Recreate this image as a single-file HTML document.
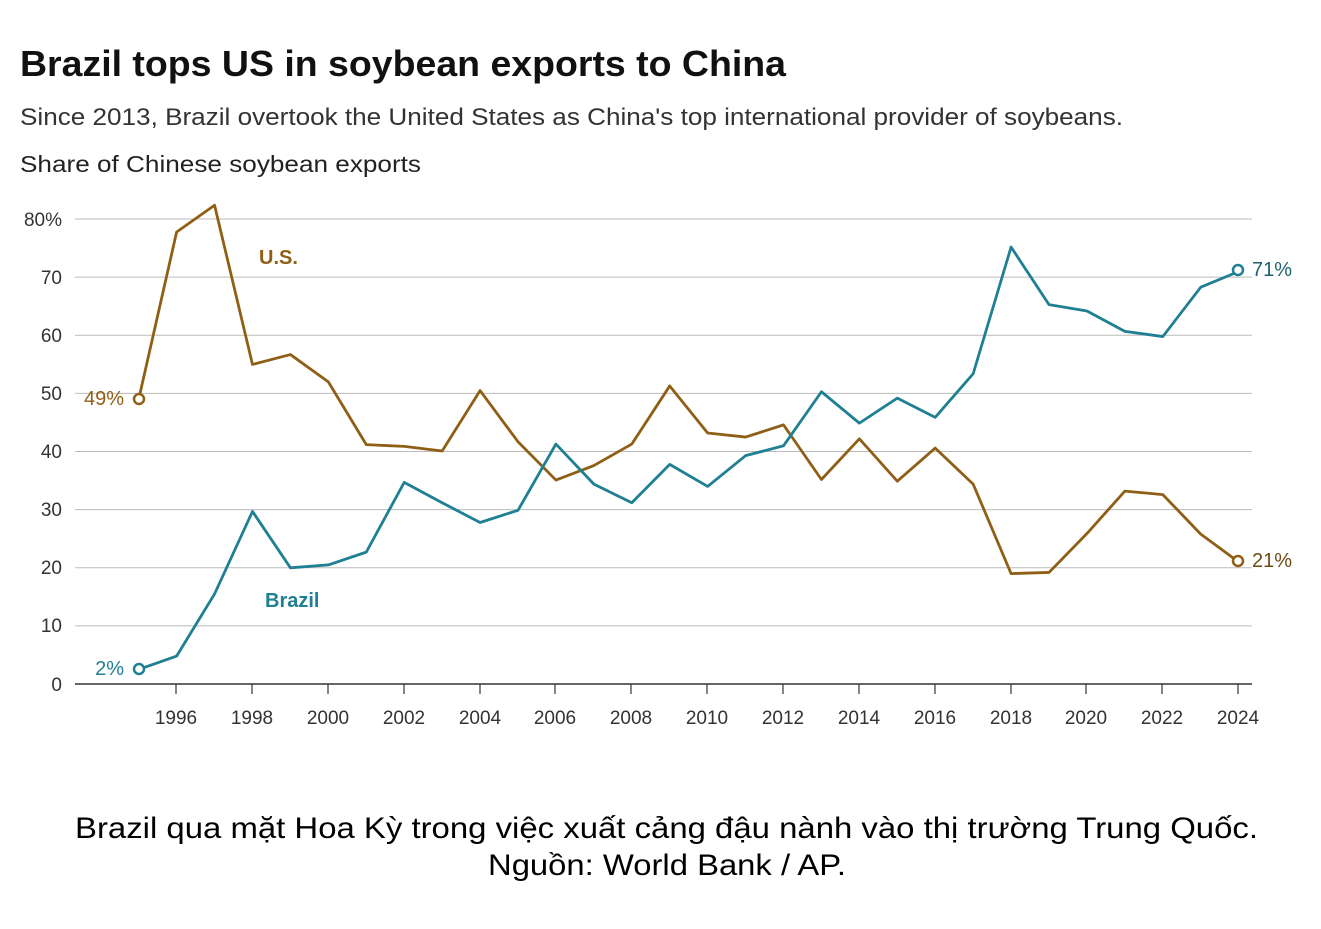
<!DOCTYPE html>
<html><head><meta charset="utf-8"><style>
body{margin:0;background:#fff;width:1321px;height:924px;overflow:hidden;font-family:"Liberation Sans",sans-serif}
</style></head><body>
<svg width="1321" height="924" xmlns="http://www.w3.org/2000/svg" font-family="Liberation Sans, DejaVu Sans, sans-serif">
<text x="20" y="76" font-size="36" font-weight="bold" fill="#111" textLength="766" lengthAdjust="spacingAndGlyphs">Brazil tops US in soybean exports to China</text>
<text x="20" y="125" font-size="24" fill="#333" textLength="1103" lengthAdjust="spacingAndGlyphs">Since 2013, Brazil overtook the United States as China's top international provider of soybeans.</text>
<text x="20" y="172" font-size="23" fill="#222" textLength="401" lengthAdjust="spacingAndGlyphs">Share of Chinese soybean exports</text>
<g stroke="#bbb" stroke-width="1">
<line x1="75" x2="1252" y1="219" y2="219"/><line x1="75" x2="1252" y1="277.1" y2="277.1"/>
<line x1="75" x2="1252" y1="335.3" y2="335.3"/><line x1="75" x2="1252" y1="393.4" y2="393.4"/>
<line x1="75" x2="1252" y1="451.5" y2="451.5"/><line x1="75" x2="1252" y1="509.6" y2="509.6"/>
<line x1="75" x2="1252" y1="567.8" y2="567.8"/><line x1="75" x2="1252" y1="625.9" y2="625.9"/>
</g>
<line x1="75" x2="1252" y1="684" y2="684" stroke="#333" stroke-width="1.5"/>
<g font-size="19" fill="#333" text-anchor="end">
<text x="62" y="226">80%</text><text x="62" y="284">70</text><text x="62" y="342">60</text><text x="62" y="400">50</text>
<text x="62" y="458">40</text><text x="62" y="516">30</text><text x="62" y="574">20</text><text x="62" y="632">10</text><text x="62" y="691">0</text>
</g>
<g stroke="#333" stroke-width="1.2">
<line x1="176" x2="176" y1="684" y2="694"/><line x1="252" x2="252" y1="684" y2="694"/><line x1="328" x2="328" y1="684" y2="694"/>
<line x1="404" x2="404" y1="684" y2="694"/><line x1="480" x2="480" y1="684" y2="694"/><line x1="555" x2="555" y1="684" y2="694"/>
<line x1="631" x2="631" y1="684" y2="694"/><line x1="707" x2="707" y1="684" y2="694"/><line x1="783" x2="783" y1="684" y2="694"/>
<line x1="859" x2="859" y1="684" y2="694"/><line x1="935" x2="935" y1="684" y2="694"/><line x1="1011" x2="1011" y1="684" y2="694"/>
<line x1="1086" x2="1086" y1="684" y2="694"/><line x1="1162" x2="1162" y1="684" y2="694"/><line x1="1238" x2="1238" y1="684" y2="694"/>
</g>
<g font-size="19" fill="#333" text-anchor="middle">
<text x="176" y="724">1996</text><text x="252" y="724">1998</text><text x="328" y="724">2000</text><text x="404" y="724">2002</text>
<text x="480" y="724">2004</text><text x="555" y="724">2006</text><text x="631" y="724">2008</text><text x="707" y="724">2010</text>
<text x="783" y="724">2012</text><text x="859" y="724">2014</text><text x="935" y="724">2016</text><text x="1011" y="724">2018</text>
<text x="1086" y="724">2020</text><text x="1162" y="724">2022</text><text x="1238" y="724">2024</text>
</g>
<g transform="translate(138.7,684) scale(37.93,-5.81)" fill="none" stroke-width="2.8" stroke-linejoin="round">
<polyline vector-effect="non-scaling-stroke" stroke="#8f5f16" points="0,49 1,77.8 2,82.4 3,55 4,56.7 5,52 6,41.2 7,40.9 8,40.1 9,50.5 10,41.7 11,35.1 12,37.6 13,41.3 14,51.3 15,43.2 16,42.5 17,44.6 18,35.2 19,42.2 20,34.9 21,40.6 22,34.4 23,19 24,19.2 25,25.9 26,33.2 27,32.6 28,25.8 29,21"/>
<polyline vector-effect="non-scaling-stroke" stroke="#1f7f93" points="0,2.5 1,4.8 2,15.5 3,29.7 4,20 5,20.5 6,22.7 7,34.7 8,31.2 9,27.8 10,29.9 11,41.3 12,34.4 13,31.2 14,37.8 15,34 16,39.3 17,41 18,50.3 19,44.9 20,49.2 21,45.9 22,53.4 23,75.2 24,65.3 25,64.2 26,60.7 27,59.8 28,68.3 29,71"/>
</g>
<circle cx="139" cy="399" r="5" fill="#fff" stroke="#8f5f16" stroke-width="2.5"/>
<circle cx="139" cy="669" r="5" fill="#fff" stroke="#1f7f93" stroke-width="2.5"/>
<circle cx="1238" cy="270" r="5" fill="#fff" stroke="#1f7f93" stroke-width="2.5"/>
<circle cx="1238" cy="561" r="5" fill="#fff" stroke="#8f5f16" stroke-width="2.5"/>
<text x="124" y="405" font-size="20" fill="#8f5f16" text-anchor="end">49%</text>
<text x="124" y="675" font-size="20" fill="#1f7f93" text-anchor="end">2%</text>
<text x="1252" y="276" font-size="20" fill="#1f5f6f">71%</text>
<text x="1252" y="567" font-size="20" fill="#6f4a12">21%</text>
<text x="259" y="264" font-size="20" font-weight="bold" fill="#8f5f16">U.S.</text>
<text x="265" y="607" font-size="20" font-weight="bold" fill="#1f7f93">Brazil</text>
<text x="75" y="838" font-size="30" fill="#000" textLength="1183" lengthAdjust="spacingAndGlyphs">Brazil qua mặt Hoa Kỳ trong việc xuất cảng đậu nành vào thị trường Trung Quốc.</text>
<text x="488" y="875" font-size="30" fill="#000" textLength="358" lengthAdjust="spacingAndGlyphs">Nguồn: World Bank / AP.</text>
</svg>
</body></html>
